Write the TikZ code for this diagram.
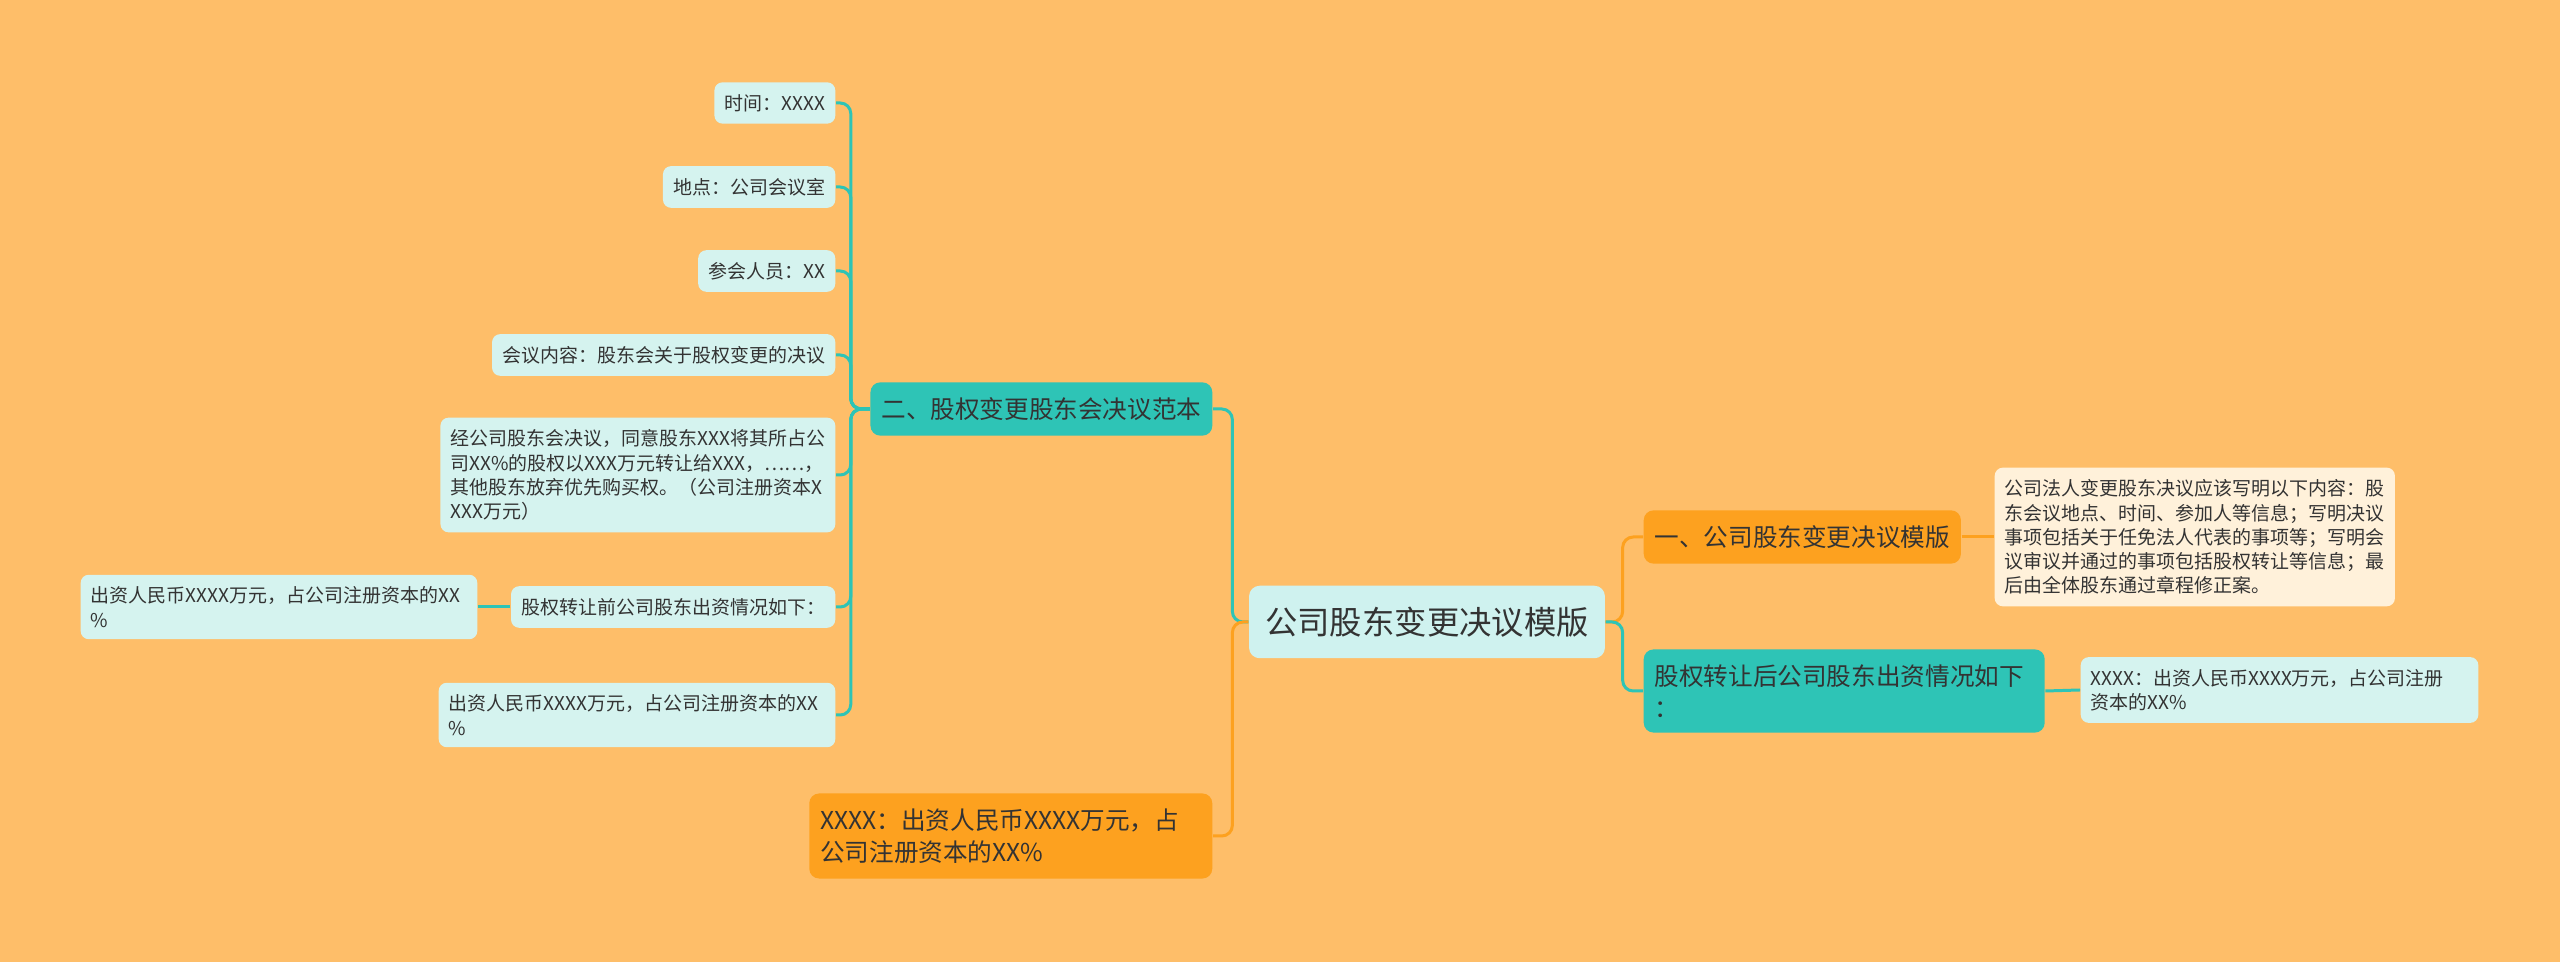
\documentclass[tikz,border=0pt]{standalone}
\usepackage{fontspec}
\setmainfont{Noto Sans CJK SC}
\usetikzlibrary{positioning}

\definecolor{bgorange}{HTML}{FEBE69}
\definecolor{leafcyan}{HTML}{D5F3EF}
\definecolor{rootcyan}{HTML}{CFF2EF}
\definecolor{tealmain}{HTML}{2EC4B6}
\definecolor{orangemain}{HTML}{FDA11F}
\definecolor{notecream}{HTML}{FFF1DA}
\definecolor{inkgrey}{HTML}{333333}

\begin{document}
\begin{tikzpicture}[
    x=0.01cm, y=-0.01cm,
    leaf/.style={rectangle, fill=leafcyan, rounded corners=2.3pt, inner xsep=2.9pt, inner ysep=3.4pt, font=\fontsize{5.4pt}{6.9pt}\selectfont, align=left, text=inkgrey},
    note/.style={leaf, fill=notecream},
    topic/.style={rectangle, rounded corners=2.8pt, inner xsep=3.1pt, inner ysep=4.3pt, font=\fontsize{7pt}{9.1pt}\selectfont, align=left, text=inkgrey},
    tealtopic/.style={topic, fill=tealmain},
    orangetopic/.style={topic, fill=orangemain},
    root/.style={rectangle, fill=rootcyan, rounded corners=3pt, inner xsep=4.6pt, inner ysep=6pt, font=\fontsize{9.2pt}{11pt}\selectfont, text=inkgrey},
    tealline/.style={draw=tealmain, line width=0.85pt, rounded corners=3pt},
    orangeline/.style={draw=orangemain, line width=0.85pt, rounded corners=3pt}
]
    \useasboundingbox (0,0) rectangle (2560,962);
    \fill[bgorange] (0,0) rectangle (2560,962);

    \node[root] (root) at (1427,622) {公司股东变更决议模版};

    % right side
    \node[orangetopic, anchor=west] (one) at (1643,537) {一、公司股东变更决议模版};
    \node[note, anchor=west] (noteone) at (1994,537) {公司法人变更股东决议应该写明以下内容：股\\东会议地点、时间、参加人等信息；写明决议\\事项包括关于任免法人代表的事项等；写明会\\议审议并通过的事项包括股权转让等信息；最\\后由全体股东通过章程修正案。};
    \node[tealtopic, anchor=west, text width=3.79cm] (after) at (1643,691) {股权转让后公司股东出资情况如下\\：};
    \node[leaf, anchor=west, text width=3.77cm] (afterx) at (2080,690) {XXXX：出资人民币XXXX万元，占公司注册\\资本的XX\%};

    % left side
    \node[tealtopic, anchor=east] (two) at (1213,409) {二、股权变更股东会决议范本};
    \node[orangetopic, anchor=east, text width=3.81cm] (xbox) at (1213,836) {XXXX：出资人民币XXXX万元，占\\公司注册资本的XX\%};

    \node[leaf, anchor=east] (time) at (836,103) {时间：XXXX};
    \node[leaf, anchor=east] (place) at (836,187) {地点：公司会议室};
    \node[leaf, anchor=east] (attend) at (836,271) {参会人员：XX};
    \node[leaf, anchor=east] (content) at (836,355) {会议内容：股东会关于股权变更的决议};
    \node[leaf, anchor=east] (resolve) at (836,475) {经公司股东会决议，同意股东XXX将其所占公\\司XX\%的股权以XXX万元转让给XXX，……，\\其他股东放弃优先购买权。（公司注册资本X\\XXX万元）};
    \node[leaf, anchor=east] (before) at (836,607) {股权转让前公司股东出资情况如下：};
    \node[leaf, anchor=east, text width=3.76cm] (beforex) at (836,715) {出资人民币XXXX万元，占公司注册资本的XX\\\%};
    \node[leaf, anchor=east, text width=3.76cm] (farleft) at (478,607) {出资人民币XXXX万元，占公司注册资本的XX\\\%};

    \foreach \leafname in {time, place, attend, content, resolve, before, beforex}
        \draw[tealline] (two.west) -- ++(-19,0) |- (\leafname.east);
    \draw[tealline] (before.west) -- (farleft.east);

    \draw[tealline] (root.west) -- ++(-16,0) |- (two.east);
    \draw[orangeline] (root.west) -- ++(-16,0) |- (xbox.east);
    \draw[orangeline] (root.east) -- ++(17,0) |- (one.west);
    \draw[tealline] (root.east) -- ++(17,0) |- (after.west);
    \draw[orangeline] (one.east) -- (noteone.west);
    \draw[tealline] (after.east) -- (afterx.west);
\end{tikzpicture}
\end{document}
